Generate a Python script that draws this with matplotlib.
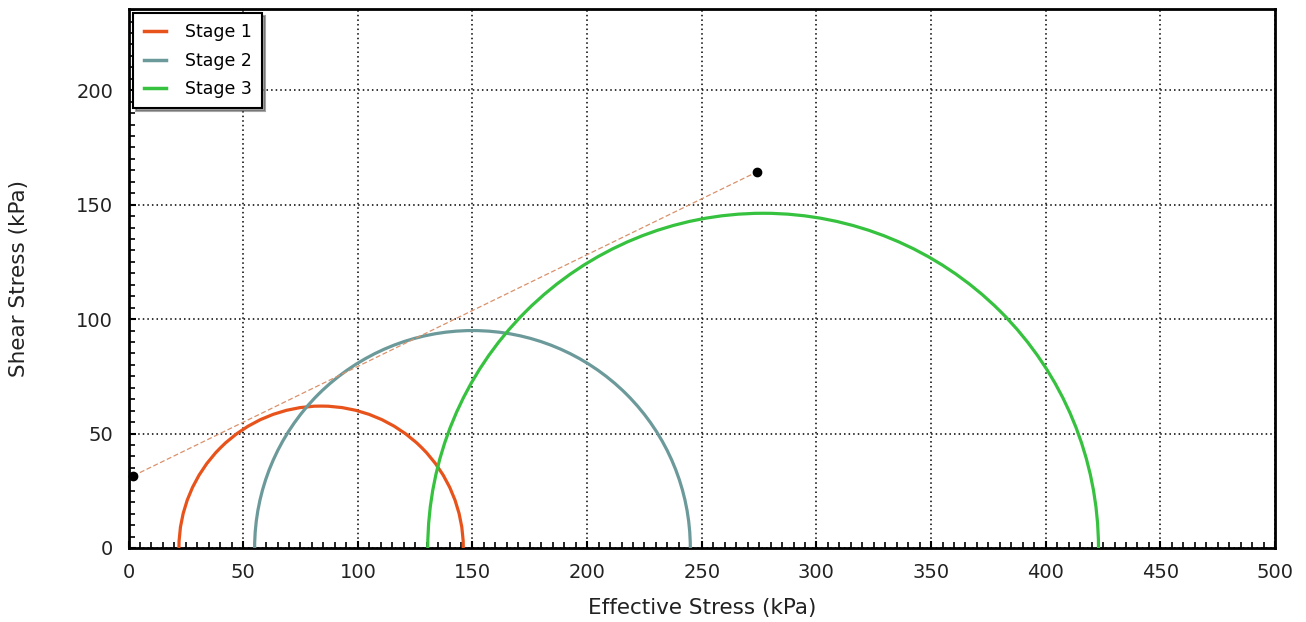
"""Mohr circles for a 3-stage triaxial test, with failure envelope."""
import matplotlib
matplotlib.use("Agg")
import matplotlib.pyplot as plt
from matplotlib.patches import Arc
from matplotlib.lines import Line2D

# principal effective stresses for each stage (kPa)
stages = ["Stage 1", "Stage 2", "Stage 3"]
sigma3 = [22.0, 55.0, 130.5]
sigma1 = [146.0, 245.0, 423.0]
colors = ["#e8531c", "#6c9a9a", "#36c23f"]

# envelope end points
env_x = [2.0, 274.0]
env_y = [31.5, 164.3]

plt.rcParams["font.family"] = ["DejaVu Sans"]

fig = plt.figure(figsize=(13.06, 6.22), dpi=100)
ax = fig.add_axes([0.0984, 0.1190, 0.8779, 0.8665])

for s3, s1, c in zip(sigma3, sigma1, colors):
    d = s1 - s3
    ax.add_patch(Arc(((s1 + s3) / 2, 0), d, d, theta1=0, theta2=180,
                     color=c, lw=2.3, zorder=3))

ax.plot(env_x, env_y, color="#d9926c", lw=0.9, ls=(0, (4, 2)), zorder=4)
ax.plot(env_x, env_y, "o", color="black", ms=6, ls="none", zorder=5,
        clip_on=False)

ax.set_xlim(0, 500)
ax.set_ylim(0, 235.5)
ax.set_xticks(range(0, 501, 50))
ax.set_yticks(range(0, 201, 50))
ax.set_xticks(range(0, 501, 5), minor=True)
ax.set_yticks(range(0, 236, 5), minor=True)
ax.tick_params(which="both", direction="in", color="black")
ax.tick_params(which="major", length=5, width=1.5, labelsize=14,
               labelcolor="#222222")
ax.tick_params(which="minor", length=4, width=1.2)
ax.tick_params(axis="x", which="major", pad=11)
ax.tick_params(axis="y", which="major", pad=11)
ax.grid(which="major", color="black", ls=(0, (1, 2)), lw=1.1)
for sp in ax.spines.values():
    sp.set_linewidth(2)

ax.set_xlabel("Effective Stress (kPa)", fontsize=15.5, color="#222222",
              labelpad=11)
ax.set_ylabel("Shear Stress (kPa)", fontsize=15.5, color="#222222",
              labelpad=34)

handles = [Line2D([], [], color=c, lw=2.5) for c in colors]
leg = ax.legend(handles, stages, loc="upper left",
                bbox_to_anchor=(0.004, 0.993), borderaxespad=0,
                prop={"size": 12.5}, frameon=True, fancybox=False, shadow=True,
                handlelength=1.3, handletextpad=1.1, labelspacing=0.6,
                borderpad=0.6)
leg.get_frame().set_edgecolor("black")
leg.get_frame().set_linewidth(1.5)

fig.savefig("out.png", dpi=100)
